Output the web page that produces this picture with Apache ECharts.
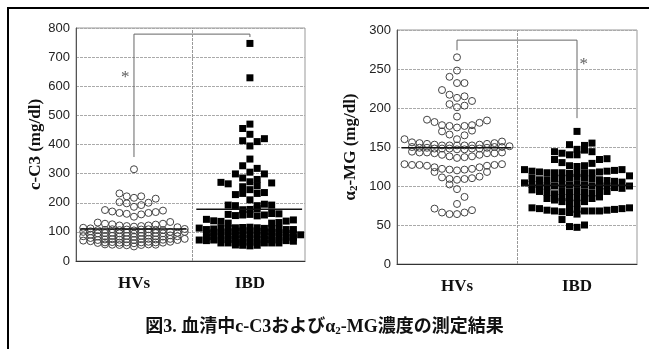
<!DOCTYPE html>
<html>
<head>
    <meta charset="utf-8">
    <title>c-C3 / a2-MG</title>
    <script src="https://cdn.jsdelivr.net/npm/echarts@6/dist/echarts.min.js"></script>
</head>
<body style="margin:0">
    <div id="main" style="width:649px;height:349px;"></div>
    <script type="text/javascript">
        // ---------- data (x = swarm slot, 0 = HVs centre, 16 = IBD centre) ----------
        var categories = ['HVs', 'IBD'];
        var catPos = [0, 16];

        // c-C3 (mg/dl)
        var c3Ticks = [0, 800, 100];
        var c3HVs = [
            [0,315],
            [-2,232],[-1,222],[0,217],[1,222],
            [-2,202],[-1,198],[0,186],[1,192],[2,200],[3,214],
            [-4,175],[-3,170],[-2,165],[-1,162],[0,152],[1,160],[2,165],[3,168],[4,173],
            [-5,132],[-4,128],[-3,126],[-2,122],[-1,120],[0,118],[1,120],[2,122],[3,125],[4,128],[5,134],
            [-7,114],[-6,112],[6,116],[7,110],
            [-7,100],[-7,85],[-7,70],
            [-6,102],[-6,90],[-6,79],[-6,68],
            [-5,106],[-5,95],[-5,84],[-5,72],[-5,62],
            [-4,107],[-4,96],[-4,85],[-4,74],[-4,64],[-4,57],
            [-3,109],[-3,97],[-3,86],[-3,75],[-3,65],[-3,56],
            [-2,106],[-2,95],[-2,84],[-2,73],[-2,63],[-2,55],
            [-1,108],[-1,97],[-1,86],[-1,75],[-1,64],[-1,54],
            [0,105],[0,94],[0,83],[0,72],[0,61],[0,50],
            [1,108],[1,97],[1,86],[1,75],[1,64],[1,55],
            [2,109],[2,98],[2,87],[2,76],[2,66],[2,57],
            [3,107],[3,96],[3,85],[3,74],[3,64],[3,56],
            [4,106],[4,95],[4,84],[4,73],[4,63],
            [5,100],[5,88],[5,76],[5,66],
            [6,97],[6,85],[6,72],
            [7,100],[7,76]
        ];
        var c3IBD = [
            [16,747],[16,629],
            [16,470],[15,455],[16,435],[15,413],[17,410],[18,420],[16,395],
            [16,350],[15,327],[16,305],[17,318],[14,299],[18,299],
            [15,285],[17,280],[16,272],[12,270],[13,265],[19,268],[15,255],[17,258],[16,245],
            [15,232],[17,232],[18,235],[14,228],[16,210],
            [13,192],[14,190],[17,190],[18,195],[19,192],
            [15,176],[16,177],[17,180],
            [13,160],[14,156],[15,158],[16,160],[17,155],[18,158],[19,163],[20,162],
            [10,143],[11,138],[12,136],[13,130],[19,130],[20,132],[21,137],[22,141],
            [9,113],[9,72],[23,90],
            [10,108],[10,95],[10,82],[10,70],
            [11,110],[11,97],[11,84],[11,72],
            [12,112],[12,99],[12,86],[12,73],[12,62],
            [13,112],[13,100],[13,87],[13,74],[13,62],
            [14,114],[14,102],[14,89],[14,76],[14,63],[14,55],
            [15,115],[15,103],[15,90],[15,77],[15,64],[15,54],
            [16,116],[16,104],[16,91],[16,78],[16,65],[16,52],
            [17,114],[17,102],[17,89],[17,76],[17,63],[17,54],
            [18,112],[18,100],[18,87],[18,74],[18,62],
            [19,112],[19,99],[19,86],[19,73],[19,62],
            [20,110],[20,98],[20,85],[20,72],[20,62],
            [21,108],[21,95],[21,82],[21,70],
            [22,108],[22,93],[22,80],[22,68]
        ];
        var c3Means = [110, 178];
        var c3Bracket = [357, 779, 769];
        var c3Star = [-1.2, 640];

        // a2-MG (mg/dl)
        var a2Ticks = [0, 300, 50];
        var a2HVs = [
            [0,265],[0,248],[-1,240],[0,232],[1,232],
            [-2,223],[-1,217],[0,213],[1,215],[2,209],
            [-1,205],[0,201],[1,203],
            [0,189],
            [-4,185],[-3,182],[-2,178],[-1,177],[0,175],[1,177],[2,178],[3,181],[4,184],
            [-2,170],[-1,166],[1,165],[2,171],
            [0,160],
            [-7,160],[-6,156],[-5,155],[-4,154],[-3,153],[-2,152],[-1,152],[0,152],[1,152],[2,152],[3,153],[4,154],[5,155],[6,157],
            [-6,150],[-5,149],[-4,149],[-3,148],[-2,148],[-1,148],[0,147],[1,147],[2,148],[3,148],[4,149],[5,150],[6,150],[7,151],
            [-6,144],[-5,143],[-4,143],[-3,142],[-2,140],[-1,138],[0,136],[1,137],[2,138],[3,140],[4,142],[5,142],[6,143],
            [-7,128],[-6,127],[-5,127],[-4,126],[-3,124],[-3,118],[-2,122],[-1,121],[0,120],[1,121],[2,122],[3,124],[4,126],[5,127],[6,128],
            [-2,111],[-1,109],[0,108],[1,109],[2,110],[3,112],[4,118],
            [-1,102],[0,96],[1,86],[0,77],
            [-3,71],[-2,66],[-1,64],[0,64],[1,66],[2,69]
        ];
        var a2IBD = [
            [16,170],
            [15,153],[17,152],[18,155],
            [13,144],[14,142],[16,147],[17,146],[18,144],[15,140],[16,140],
            [13,134],[14,130],[15,126],[16,125],[17,126],[18,129],[19,134],[20,135],
            [9,121],[10,119],[11,118],[12,117],[13,117],[14,117],[15,116],[16,116],[17,117],[18,117],[19,118],[20,119],[21,120],[22,121],[23,113],
            [9,104],[23,100],
            [10,110],[10,102],[10,95],
            [11,108],[11,100],[11,93],
            [12,108],[12,100],[12,92],[12,84],
            [13,109],[13,100],[13,90],[13,82],
            [14,110],[14,102],[14,93],[14,85],[14,80],
            [15,110],[15,101],[15,92],[15,84],[15,78],
            [16,111],[16,102],[16,93],[16,85],[16,78],
            [17,110],[17,101],[17,92],[17,84],[17,80],
            [18,109],[18,100],[18,91],[18,84],
            [19,108],[19,100],[19,92],[19,86],
            [20,107],[20,100],[20,93],
            [21,106],[21,98],
            [22,105],[22,97],
            [10,72],[11,71],[12,69],[13,68],[14,67],[15,72],[15,66],[16,70],[16,64],[17,68],[18,68],[19,68],[20,69],[21,70],[22,71],[23,72],
            [14,57],[15,48],[16,47],[17,50]
        ];
        var a2Means = [149, 101];
        var a2Bracket = [274, 287, 187];
        var a2Star = [16.9, 259];

        // ---------- styles ----------
        var serif = '"Liberation Serif", "Noto Sans CJK JP", serif';
        var sans = '"Liberation Sans", Arial, sans-serif';

        function xAxisFor(gridIndex, maxX) {
            return {
                type: 'value', gridIndex: gridIndex, min: -8, max: maxX,
                axisLine: { show: true, onZero: false, lineStyle: { color: '#333', width: 1 } },
                axisTick: { show: false },
                splitLine: { show: false },
                axisLabel: {
                    customValues: catPos,
                    formatter: function (v) { return categories[catPos.indexOf(v)] || ''; },
                    fontFamily: serif, fontWeight: 'bold', fontSize: 17, color: '#111', margin: 14
                }
            };
        }

        function yAxisFor(gridIndex, ticks, name, gap) {
            return {
                type: 'value', gridIndex: gridIndex,
                min: ticks[0], max: ticks[1], interval: ticks[2],
                name: name, nameLocation: 'middle', nameGap: gap,
                nameTextStyle: {
                    fontFamily: serif, fontWeight: 'bold', fontSize: 17, color: '#111',
                    rich: {
                        a: { fontFamily: serif, fontWeight: 'bold', fontSize: 17, color: '#111' },
                        s: { fontFamily: serif, fontWeight: 'bold', fontSize: 11, color: '#111', verticalAlign: 'bottom', padding: [7, 0, 0, 0] }
                    }
                },
                axisLine: { show: true, onZero: false, lineStyle: { color: '#555' } },
                axisTick: { show: false },
                axisLabel: { fontFamily: sans, fontSize: 13, color: '#222', margin: 6 },
                splitLine: { show: true, lineStyle: { color: '#aaa', type: [3, 1], width: 1 } }
            };
        }

        function panelSeries(idx, hv, ibd, means, bracket, star) {
            var span = [-7.4, 7.2];
            var meanLines = means.map(function (m, i) {
                return {
                    type: 'line', xAxisIndex: idx, yAxisIndex: idx, z: 5,
                    symbol: 'none', silent: true,
                    lineStyle: { color: '#111', width: 1.5 },
                    data: [[catPos[i] + span[0], m], [catPos[i] + span[1], m]]
                };
            });
            return [
                {
                    type: 'scatter', xAxisIndex: idx, yAxisIndex: idx, z: 3,
                    symbol: 'circle', symbolSize: 7,
                    itemStyle: { color: 'rgba(255,255,255,0)', borderColor: '#444', borderWidth: 1, opacity: 1 },
                    data: hv,
                    markLine: {
                        silent: true, symbol: 'none', label: { show: false },
                        lineStyle: { color: '#999', type: [3, 1], width: 1 },
                        data: [{ xAxis: 8 }]
                    }
                },
                {
                    type: 'scatter', xAxisIndex: idx, yAxisIndex: idx, z: 3,
                    symbol: 'rect', symbolSize: [7, 7],
                    itemStyle: { color: '#000', opacity: 1 },
                    data: ibd
                },
                {
                    type: 'line', xAxisIndex: idx, yAxisIndex: idx, z: 4,
                    symbol: 'none', silent: true,
                    lineStyle: { color: '#666', width: 1 },
                    data: [[catPos[0], bracket[0]], [catPos[0], bracket[1]], [catPos[1], bracket[1]], [catPos[1], bracket[2]]]
                },
                {
                    type: 'scatter', xAxisIndex: idx, yAxisIndex: idx, z: 4,
                    symbolSize: 1, itemStyle: { color: 'rgba(0,0,0,0)' },
                    label: { show: true, position: 'inside', formatter: '*', fontFamily: serif, fontSize: 17, color: '#333', offset: [0, 3] },
                    data: [star]
                }
            ].concat(meanLines);
        }

        var chart = echarts.init(document.getElementById('main'));
        var option = {
            backgroundColor: '#fff',
            animation: false,
            title: {
                text: '{t|図3. 血清中c-C3および}{t|α}{s|2}{t|-MG濃度の測定結果}',
                left: 'center', top: 313,
                textStyle: {
                    rich: {
                        t: { fontFamily: serif, fontWeight: 'bold', fontSize: 18, color: '#111' },
                        s: { fontFamily: serif, fontWeight: 'bold', fontSize: 11, color: '#111', verticalAlign: 'bottom', padding: [8, 0, 0, 0] }
                    }
                }
            },
            graphic: [{
                type: 'rect', silent: true,
                shape: { x: 8, y: 8, width: 700, height: 400 },
                style: { fill: 'none', stroke: '#000', lineWidth: 2 }
            }],
            grid: [
                { left: 76, top: 28, width: 229, height: 233, show: true, borderColor: '#999', borderWidth: 1 },
                { left: 397, top: 30, width: 240, height: 234, show: true, borderColor: '#999', borderWidth: 1 }
            ],
            xAxis: [xAxisFor(0, 23.6), xAxisFor(1, 24)],
            yAxis: [
                yAxisFor(0, c3Ticks, 'c-C3 (mg/dl)', 31),
                yAxisFor(1, a2Ticks, '{a|α}{s|2}{a|-MG (mg/dl)}', 37)
            ],
            series: panelSeries(0, c3HVs, c3IBD, c3Means, c3Bracket, c3Star)
                .concat(panelSeries(1, a2HVs, a2IBD, a2Means, a2Bracket, a2Star))
        };
        chart.setOption(option);
    </script>
</body>
</html>
